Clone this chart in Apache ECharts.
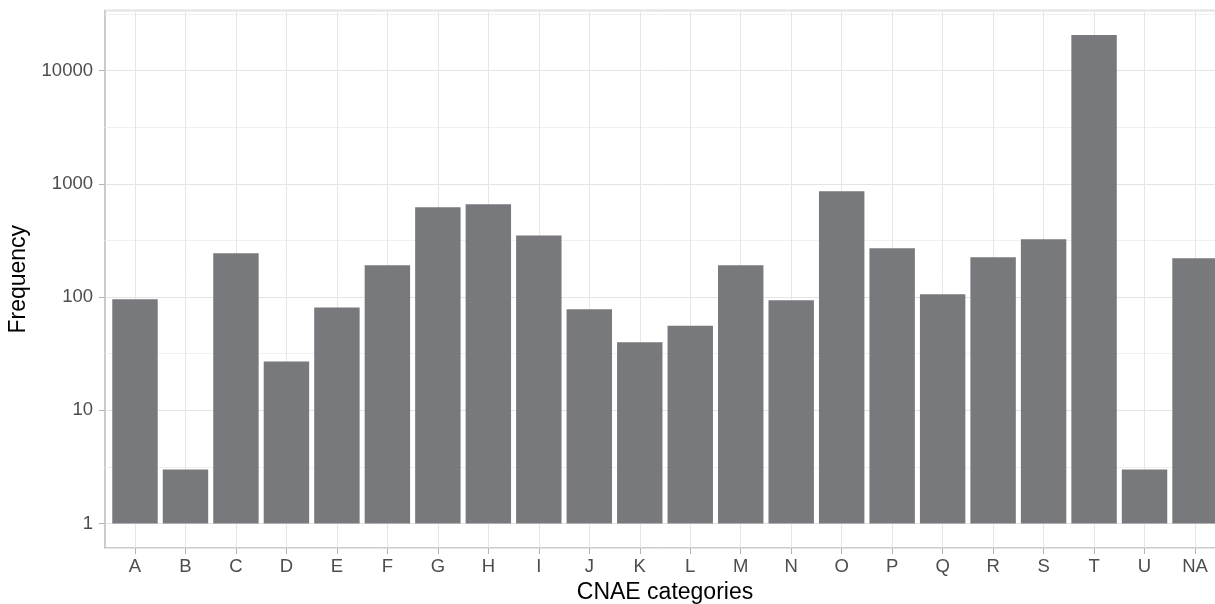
<!DOCTYPE html>
<html>
<head>
<meta charset="utf-8">
<script src="https://cdn.jsdelivr.net/npm/echarts@6/dist/echarts.min.js"></script>
<style>
  html, body { margin: 0; padding: 0; background: #ffffff; }
  #chart { width: 1215px; height: 604px; }
</style>
</head>
<body>
<div id="chart"></div>
<script>
// ---- data ----
const categories = ['A','B','C','D','E','F','G','H','I','J','K','L','M','N','O','P','Q','R','S','T','U','NA'];
const frequency  = [96, 3, 244, 27, 81, 191, 621, 660, 351, 78, 40, 56, 191, 94, 860, 270, 106, 225, 324, 20700, 3, 220];
const yTickLabels = ['1', '10', '100', '1000', '10000'];

// ggplot-like 5% expansion on the log scale (bars start at 1)
const lmax = Math.log10(Math.max.apply(null, frequency));
const yMin = Math.pow(10, -0.05 * lmax);
const yMax = Math.pow(10, 1.05 * lmax);

const FONT = '"Liberation Sans", Arial, Helvetica, sans-serif';
const GRID_TOP = 10.5, GRID_H = 537.5;

const isPow10 = v => {
  const l = Math.log10(v);
  return Math.abs(l - Math.round(l)) < 1e-6;
};

const chart = echarts.init(document.getElementById('chart'), null, { renderer: 'canvas' });
chart.setOption({
  animation: false,
  backgroundColor: '#ffffff',
  textStyle: { fontFamily: FONT },
  grid: [
    { left: 109.76, top: GRID_TOP, width: 1110.5, height: GRID_H, show: false,
      containLabel: false, outerBoundsMode: 'none' },
    { left: 105, top: GRID_TOP, width: 1130, height: GRID_H, show: true,
      backgroundColor: 'transparent', borderColor: '#bcbcc0', borderWidth: 1.5,
      containLabel: false, outerBoundsMode: 'none' }
  ],
  xAxis: [
    {
      type: 'category', gridIndex: 0, position: 'bottom', data: categories, boundaryGap: true,
      name: 'CNAE categories', nameLocation: 'middle', nameGap: 43,
      nameTextStyle: { color: '#000000', fontSize: 23, fontFamily: FONT, verticalAlign: 'middle' },
      axisLine: { show: false },
      axisTick: { show: true, alignWithLabel: true, length: 6, lineStyle: { color: '#b3b3b3', width: 1 } },
      axisLabel: { show: true, interval: 0, margin: 9, color: '#4d4d4d', fontSize: 18.5, fontFamily: FONT },
      splitLine: { show: true, alignWithLabel: true, lineStyle: { color: '#e6e6e6', width: 1 } }
    },
    { type: 'value', gridIndex: 1, position: 'bottom', show: false, min: 0, max: 1 }
  ],
  yAxis: [
    { type: 'log', gridIndex: 0, position: 'left', min: yMin, max: yMax, show: false },
    { // minor grid (half decades)
      type: 'log', gridIndex: 1, position: 'left', logBase: Math.sqrt(10), min: yMin, max: yMax, splitNumber: 10,
      axisLine: { show: false }, axisTick: { show: false }, axisLabel: { show: false },
      splitLine: { show: true, lineStyle: { color: '#f0f0f0', width: 1 } }
    },
    { // major grid + labels
      type: 'log', gridIndex: 1, position: 'left', logBase: 10, min: yMin, max: yMax, splitNumber: 5,
      name: 'Frequency', nameLocation: 'middle', nameGap: 84, nameRotate: 90,
      nameTextStyle: { color: '#000000', fontSize: 23, fontFamily: FONT, verticalAlign: 'middle' },
      axisLine: { show: false },
      axisTick: { show: true, length: 6, lineStyle: { color: '#b3b3b3', width: 1 } },
      axisLabel: {
        show: true, margin: 12, color: '#4d4d4d', fontSize: 18.5, fontFamily: FONT,
        showMinLabel: false, showMaxLabel: false,
        formatter: v => {
          if (!isPow10(v)) return '';
          const idx = Math.round(Math.log10(v));
          return yTickLabels[idx] !== undefined ? yTickLabels[idx] : '';
        }
      },
      splitLine: { show: true, lineStyle: { color: '#e4e4e4', width: 1 } }
    }
  ],
  series: [{
    type: 'bar',
    xAxisIndex: 0, yAxisIndex: 0,
    data: frequency,
    barWidth: '90%',
    itemStyle: { color: '#78797d', borderWidth: 0, borderColor: 'transparent' },
    emphasis: { disabled: true }
  }]
});
</script>
</body>
</html>
